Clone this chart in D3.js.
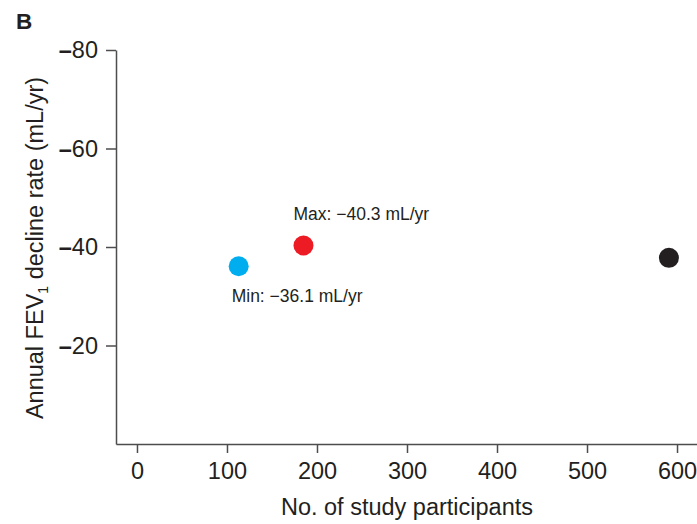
<!DOCTYPE html>
<html><head><meta charset="utf-8">
<script src="https://cdn.jsdelivr.net/npm/d3@7"></script>
<style>body{margin:0;background:#fff;} text{font-family:"Liberation Sans",Arial,sans-serif;fill:#231F20;}</style>
</head><body>
<svg id="c" width="697" height="524"></svg>
<script>
const participants = [113, 185, 591];
const declineRates = [-36.1, -40.3, -37.8];
const pointColors = ["#00AEEF", "#ED1C24", "#231F20"];
const xTicks = [0, 100, 200, 300, 400, 500, 600];
const yTicks = [-80, -60, -40, -20];
const annotations = [
  {i: 1, text: "Max: \u221240.3 mL/yr", dx: -10, dy: -26},
  {i: 0, text: "Min: \u221236.1 mL/yr", dx: -7, dy: 36}
];

const svg = d3.select("#c");
const x = d3.scaleLinear().domain([-23.3, 622.2]).range([116, 697]);
const y = d3.scaleLinear().domain([-80, 0]).range([50, 444]);

// panel letter
svg.append("text").attr("x", 16).attr("y", 28.5).attr("font-size", 22.5).attr("font-weight", "bold").text("B");

const axisColor = "#4d4d4d";
const gy = svg.append("g").attr("transform", "translate(116,0)")
  .call(d3.axisLeft(y).tickValues(yTicks).tickSize(10).tickSizeOuter(0).tickPadding(8));
const gx = svg.append("g").attr("transform", "translate(0,444)")
  .call(d3.axisBottom(x).tickValues(xTicks).tickSize(9).tickSizeOuter(0).tickPadding(9)
    .tickFormat(d => d));
[gx, gy].forEach(g => {
  g.select(".domain").attr("stroke", axisColor).attr("stroke-width", 1.5);
  g.selectAll(".tick line").attr("stroke", axisColor).attr("stroke-width", 1.5);
  g.selectAll(".tick text").attr("font-size", 23.5).attr("fill", "#231F20")
    .attr("font-family", "'Liberation Sans', Arial, sans-serif");
});
gy.selectAll(".tick text").each(function(d){
  const t = d3.select(this); t.text("");
  t.append("tspan").attr("font-weight", "bold").text("\u2013");
  t.append("tspan").text(Math.abs(d));
});

// titles
svg.append("text").attr("x", 407).attr("y", 515).attr("text-anchor", "middle").attr("font-size", 23.5)
  .text("No. of study participants");
const yt = svg.append("text").attr("transform", "translate(43,248) rotate(-90)").attr("text-anchor", "middle").attr("font-size", 23.5);
yt.append("tspan").text("Annual FEV");
yt.append("tspan").attr("font-size", 14).attr("dy", 5).text("1");
yt.append("tspan").attr("dy", -5).text(" decline rate (mL/yr)");

// points
svg.selectAll("circle.pt").data(participants).enter().append("circle").attr("class", "pt")
  .attr("cx", (d) => x(d)).attr("cy", (d, i) => y(declineRates[i])).attr("r", 10)
  .attr("fill", (d, i) => pointColors[i]);

// annotations
svg.selectAll("text.ann").data(annotations).enter().append("text").attr("class", "ann")
  .attr("x", a => x(participants[a.i]) + a.dx).attr("y", a => y(declineRates[a.i]) + a.dy)
  .attr("font-size", 17.5).text(a => a.text);
</script>
</body></html>
